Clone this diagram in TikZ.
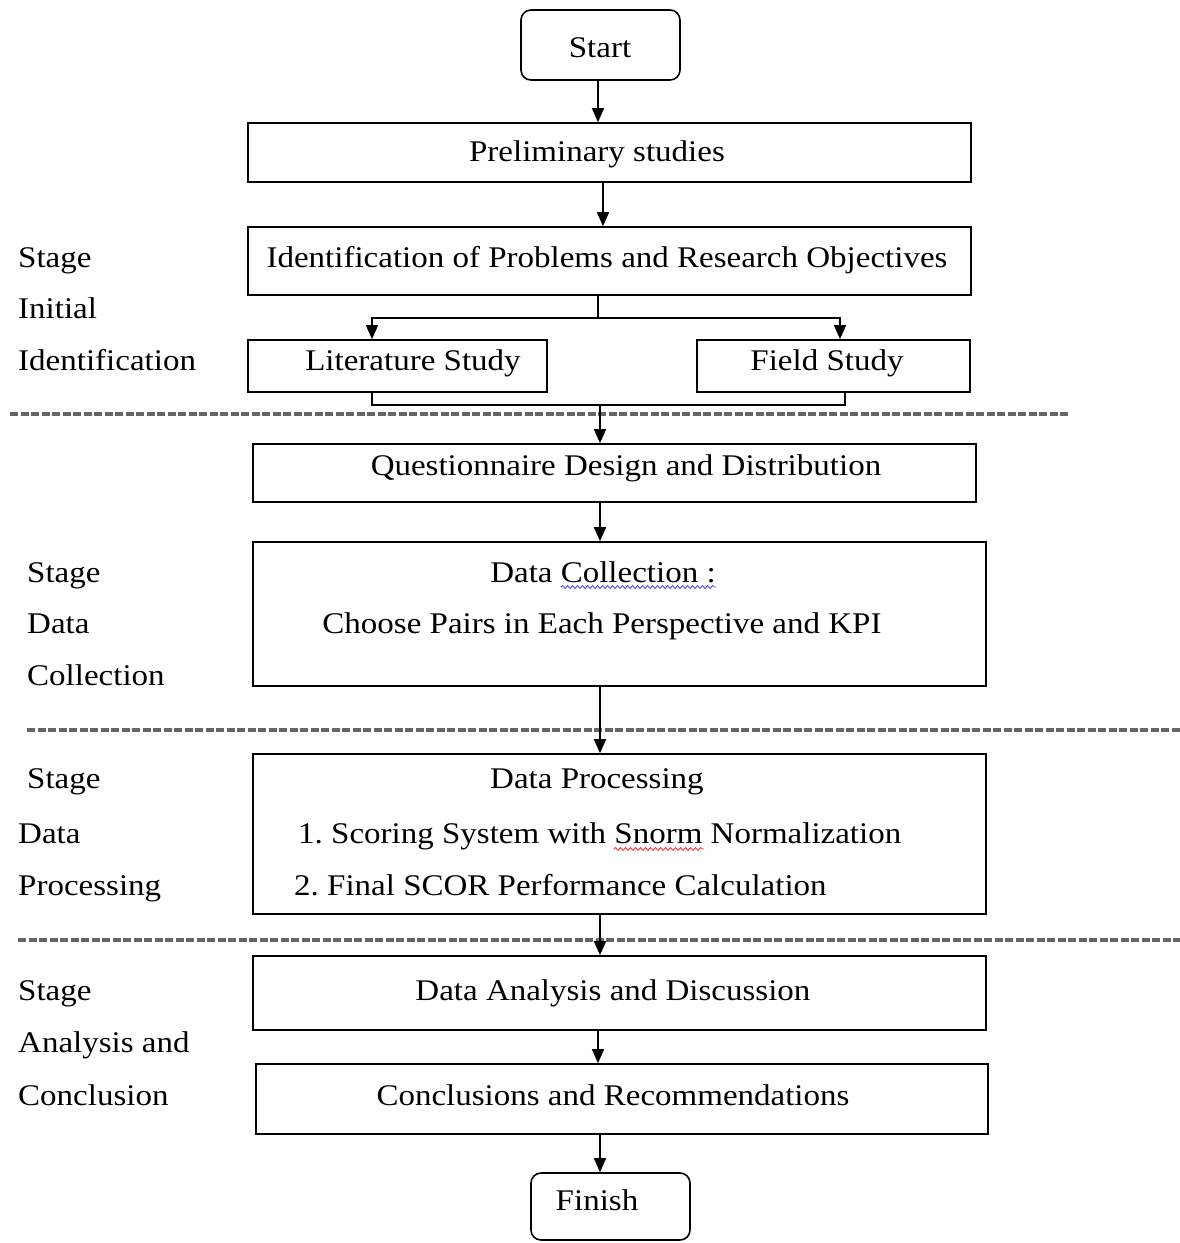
\documentclass[tikz,border=0pt]{standalone}
\usepackage{fontspec}
\setmainfont{Liberation Serif}[FakeStretch=1.1]
\usetikzlibrary{arrows.meta,decorations.pathmorphing}
\begin{document}
\frenchspacing
\begin{tikzpicture}[x=1pt,y=-1pt,
  box/.style={draw, line width=1.6pt, inner sep=0pt, rectangle},
  rbox/.style={draw, line width=1.6pt, inner sep=0pt, rounded corners=10pt},
  txt/.style={anchor=base, inner sep=0pt, font=\fontsize{30}{36}\selectfont},
  lab/.style={anchor=base west, inner sep=0pt, font=\fontsize{30}{36}\selectfont},
  arr/.style={line width=1.4pt, -{Triangle[length=14pt,width=12pt]}},
  conn/.style={line width=1.4pt},
  sep/.style={line width=3.6pt, draw=black!60, dash pattern=on 8pt off 2.5pt},
  squig/.style={line width=0.8pt, decorate, decoration={snake, amplitude=1.5pt, segment length=5pt}}]
\useasboundingbox (0,0) rectangle (1180,1243);

% boxes
\node[rbox, minimum width=159pt, minimum height=70pt] (start) at (600.5,45) {};
\node[box, minimum width=723pt, minimum height=59pt] (prelim) at (609.5,152.5) {};
\node[box, minimum width=723pt, minimum height=68pt] (ident) at (609.5,261) {};
\node[box, minimum width=299pt, minimum height=52pt] (lit) at (397.5,366) {};
\node[box, minimum width=273pt, minimum height=52pt] (field) at (833.5,366) {};
\node[box, minimum width=723pt, minimum height=58pt] (quest) at (614.5,473) {};
\node[box, minimum width=733pt, minimum height=144pt] (collect) at (619.5,614) {};
\node[box, minimum width=733pt, minimum height=160pt] (process) at (619.5,834) {};
\node[box, minimum width=733pt, minimum height=74pt] (analysis) at (619.5,993) {};
\node[box, minimum width=732pt, minimum height=70pt] (concl) at (622,1099) {};
\node[rbox, minimum width=159pt, minimum height=67pt] (finish) at (610.5,1206.5) {};

% separators
\coordinate (d1a) at (10,414); \coordinate (d1b) at (1068,414);
\coordinate (d2a) at (27,730); \coordinate (d2b) at (1180,730);
\coordinate (d3a) at (18,940); \coordinate (d3b) at (1180,940);
\draw[sep] (d1a) -- (d1b);
\draw[sep] (d2a) -- (d2b);
\draw[sep] (d3a) -- (d3b);

% box texts
\node[txt] (tstart) at (600,57) {Start};
\node[txt] (tprelim) at (597,161) {Preliminary studies};
\node[txt] (tident) at (607,267) {Identification of Problems and Research Objectives};
\node[txt] (tlit) at (413,370) {Literature Study};
\node[txt] (tfield) at (827,370) {Field Study};
\node[txt] (tquest) at (626,475) {Questionnaire Design and Distribution};
\node[txt] (tcoll1) at (603,582) {Data Collection :};
\node[txt] (tcoll2) at (602,633) {Choose Pairs in Each Perspective and KPI};
\node[txt] (tproc1) at (597,788) {Data Processing};
\node[lab] (tproc2) at (298,843) {1. Scoring System with Snorm Normalization};
\node[lab] (tproc3) at (294,895) {2. Final SCOR Performance Calculation};
\node[txt] (tanal) at (613,1000) {Data Analysis and Discussion};
\node[txt] (tconcl) at (613,1105) {Conclusions and Recommendations};
\node[txt] (tfinish) at (597,1210) {Finish};

% spelling squiggles
\coordinate (sqa1) at (561,587); \coordinate (sqa2) at (716,587);
\coordinate (sqb1) at (614,849); \coordinate (sqb2) at (704,849);
\draw[squig, draw=blue!75] (sqa1) -- (sqa2);
\draw[squig, draw=red!85] (sqb1) -- (sqb2);

% stage labels
\node[lab] (s1a) at (18,267) {Stage};
\node[lab] (s1b) at (18,318) {Initial};
\node[lab] (s1c) at (18,370) {Identification};
\node[lab] (s2a) at (27,582) {Stage};
\node[lab] (s2b) at (27,633) {Data};
\node[lab] (s2c) at (27,685) {Collection};
\node[lab] (s3a) at (27,788) {Stage};
\node[lab] (s3b) at (18,843) {Data};
\node[lab] (s3c) at (18,895) {Processing};
\node[lab] (s4a) at (18,1000) {Stage};
\node[lab] (s4b) at (18,1052) {Analysis and};
\node[lab] (s4c) at (18,1105) {Conclusion};

% connectors
\coordinate (c1) at (598,0);
\draw[arr] (c1 |- start.south) -- (c1 |- prelim.north);
\coordinate (c2) at (603,0);
\draw[arr] (c2 |- prelim.south) -- (c2 |- ident.north);
\coordinate (split) at (598,318);
\coordinate (litin) at (372,0);
\coordinate (fieldin) at (840,0);
\draw[conn] (split |- ident.south) -- (split);
\draw[arr] (split) -| (litin |- lit.north);
\draw[arr] (split) -| (fieldin |- field.north);
\coordinate (litout) at (372,0);
\coordinate (fieldout) at (845,0);
\coordinate (merge) at (600,405);
\draw[conn] (litout |- lit.south) |- (merge) -| (fieldout |- field.south);
\draw[arr] (merge) -- (merge |- quest.north);
\coordinate (c3) at (600,0);
\draw[arr] (c3 |- quest.south) -- (c3 |- collect.north);
\draw[arr] (c3 |- collect.south) -- (c3 |- process.north);
\draw[arr] (c3 |- process.south) -- (c3 |- analysis.north);
\coordinate (c4) at (598,0);
\draw[arr] (c4 |- analysis.south) -- (c4 |- concl.north);
\draw[arr] (c3 |- concl.south) -- (c3 |- finish.north);
\end{tikzpicture}
\end{document}
